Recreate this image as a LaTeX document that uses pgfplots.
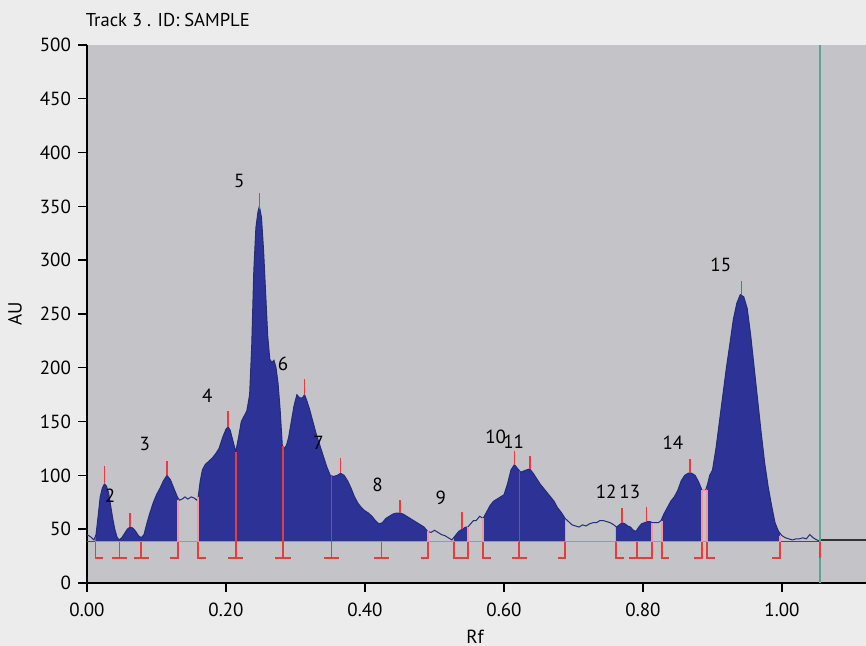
\documentclass[border=0pt]{standalone}
\usepackage{fontspec}
\setmainfont{PT Sans}
\usepackage{pgfplots}
\usepackage{pgfplotstable}
\pgfplotsset{compat=1.18}
\usepgfplotslibrary{fillbetween}
\definecolor{outerbg}{RGB}{236,236,236}
\definecolor{plotbg}{RGB}{196,196,200}
\definecolor{peak}{RGB}{44,50,150}
\definecolor{trace}{RGB}{35,45,115}
\definecolor{mk}{RGB}{232,60,60}
\definecolor{mkpink}{RGB}{240,150,160}
\definecolor{mkpurple}{RGB}{160,60,140}
\definecolor{tealline}{RGB}{90,165,150}
\pgfplotsset{
  layers/mylayers/.define layer set={outerlayer,axis background,axis grid,axis ticks,axis lines,axis tick labels,pre main,main,axis descriptions,axis foreground}{/pgfplots/layers/standard},
}

\pgfplotstableread{
x y
0.000 45
0.005 43
0.010 40
0.013 45
0.016 62
0.019 80
0.022 88
0.025 92
0.028 90
0.031 84
0.034 72
0.037 60
0.040 50
0.043 43
0.046 40
0.050 42
0.054 46
0.058 50
0.062 52
0.066 51
0.070 48
0.074 44
0.078 42
0.082 45
0.086 55
0.090 64
0.095 74
0.100 82
0.105 88
0.110 95
0.115 100
0.120 96
0.125 88
0.130 80
0.133 77
0.137 78
0.141 80
0.145 78
0.150 80
0.154 79
0.158 77
0.160 80
0.163 95
0.166 105
0.170 110
0.175 113
0.180 116
0.185 120
0.190 125
0.195 135
0.200 143
0.203 145
0.206 142
0.210 132
0.214 122
0.218 135
0.222 150
0.226 155
0.230 160
0.234 175
0.237 220
0.240 290
0.243 330
0.246 345
0.248 350
0.251 340
0.254 310
0.257 270
0.260 230
0.263 208
0.266 205
0.269 207
0.272 200
0.275 185
0.278 160
0.281 128
0.284 125
0.287 128
0.290 135
0.294 150
0.298 165
0.302 175
0.306 172
0.310 172
0.313 175
0.316 170
0.320 162
0.325 150
0.330 138
0.335 128
0.340 118
0.345 108
0.350 100
0.355 99
0.360 100
0.365 102
0.370 100
0.375 95
0.380 88
0.385 80
0.390 74
0.395 70
0.400 67
0.405 65
0.410 62
0.415 58
0.420 55
0.425 56
0.430 60
0.435 62
0.440 64
0.445 65
0.450 65
0.455 64
0.460 62
0.465 60
0.470 58
0.475 56
0.480 54
0.485 52
0.490 48
0.495 47
0.500 49
0.505 47
0.510 45
0.515 44
0.520 42
0.525 40
0.530 44
0.535 48
0.540 50
0.545 52
0.548 52
0.552 55
0.556 58
0.560 58
0.565 62
0.570 60
0.575 66
0.580 72
0.585 76
0.590 78
0.595 80
0.600 82
0.605 92
0.610 105
0.615 110
0.620 106
0.624 103
0.628 104
0.632 105
0.637 106
0.642 102
0.647 97
0.652 92
0.657 88
0.662 84
0.667 80
0.672 76
0.677 70
0.682 66
0.688 60
0.693 57
0.698 54
0.703 53
0.708 52
0.713 54
0.718 53
0.723 55
0.728 56
0.733 56
0.738 58
0.743 58
0.748 57
0.753 56
0.758 54
0.762 52
0.766 54
0.770 56
0.774 55
0.778 53
0.782 52
0.786 49
0.790 48
0.794 52
0.798 55
0.802 56
0.806 57
0.810 57
0.814 56
0.818 56
0.822 56
0.826 58
0.830 64
0.835 70
0.840 76
0.845 80
0.850 86
0.855 95
0.860 100
0.865 102
0.870 102
0.875 100
0.880 94
0.885 86
0.890 86
0.893 92
0.896 100
0.900 105
0.905 125
0.910 150
0.915 175
0.920 200
0.925 222
0.930 245
0.935 260
0.940 268
0.945 266
0.950 255
0.955 230
0.960 200
0.965 170
0.970 140
0.975 112
0.980 90
0.985 72
0.990 56
0.995 48
1.000 44
1.005 42
1.010 41
1.015 40
1.020 41
1.025 41
1.030 42
1.035 41
1.040 45
1.045 42
1.050 40
1.055 39
}\trace

\begin{document}
\begin{tikzpicture}
\begin{axis}[
  set layers=mylayers,
  clip=false,
  at={(0,0)}, anchor=south west,
  scale only axis, width=389.5pt, height=269pt,
  xmin=0, xmax=1.1209, ymin=0, ymax=500,
  axis background/.style={fill=plotbg},
  axis x line*=bottom, axis y line*=left,
  axis line style={black, line width=0.7pt},
  tick style={black, line width=0.7pt},
  tick align=outside, major tick length=4.5pt,
  xtick={0,0.2,0.4,0.6,0.8,1.0},
  xticklabels={0.00,0.20,0.40,0.60,0.80,1.00},
  ytick={0,50,100,150,200,250,300,350,400,450,500},
  yticklabels={0,50,100,150,200,250,300,350,400,450,500},
  minor tick num=0,
  tick label style={font=\fontsize{9.5}{11}\selectfont},
  xticklabel style={yshift=-2pt},
  title={Track 3 . ID: SAMPLE},
  every axis title shift=0pt,
  title style={at={(axis description cs:-0.002,1.0335)}, anchor=base west, inner sep=0pt, font=\fontsize{9.3}{11}\selectfont},
  xlabel={Rf},
  xlabel style={at={(axis description cs:0.498,-0.0994)}, anchor=center, font=\fontsize{9.5}{11}\selectfont},
  ylabel={AU},
  ylabel style={at={(axis description cs:-0.0924,0.5)}, anchor=center, font=\fontsize{9.5}{11}\selectfont},
]
\begin{pgfonlayer}{outerlayer}
\fill[outerbg] (rel axis cs:-0.1117,-0.1171) rectangle (rel axis cs:1,1.0836);
\end{pgfonlayer}
% baseline
\addplot[draw=none, name path=base, forget plot] coordinates {(0,39) (1.1209,39)};
\addplot[name path=curve, draw=none, forget plot] table[x=x,y=y] {\trace};
% fills
\addplot[peak] fill between[of=curve and base, soft clip={domain=0.012:0.131}];
\addplot[peak] fill between[of=curve and base, soft clip={domain=0.160:0.491}];
\addplot[peak] fill between[of=curve and base, soft clip={domain=0.528:0.548}];
\addplot[peak] fill between[of=curve and base, soft clip={domain=0.570:0.688}];
\addplot[peak] fill between[of=curve and base, soft clip={domain=0.761:0.813}];
\addplot[peak] fill between[of=curve and base, soft clip={domain=0.827:0.885}];
\addplot[peak] fill between[of=curve and base, soft clip={domain=0.892:0.997}];
% baseline lines
\addplot[gray!60!black, line width=0.4pt] coordinates {(0,39) (1.055,39)};
\addplot[black!80, line width=1pt] coordinates {(1.055,40) (1.1209,40)};
\addplot[blue!45!white, line width=0.4pt] coordinates {(0.012,39) (0.997,39)};
% trace
\addplot[trace, line width=0.5pt] table[x=x,y=y] {\trace};
% teal line
\addplot[tealline, line width=0.8pt] coordinates {(1.055,0) (1.055,500)};
% separators inside fills
\addplot[mk, line width=0.8pt, unbounded coords=jump] coordinates {
(0.214,38) (0.214,122) (0.214,nan)
(0.282,38) (0.282,127) (0.282,nan)
};
\addplot[mkpurple, line width=0.6pt, unbounded coords=jump] coordinates {
(0.352,38) (0.352,100) (0.352,nan)
(0.622,38) (0.622,104) (0.622,nan)
};
\addplot[mkpink, line width=0.8pt, unbounded coords=jump] coordinates {
(0.131,38) (0.131,77) (0.131,nan)
(0.160,38) (0.160,80) (0.160,nan)
(0.491,38) (0.491,48) (0.491,nan)
(0.548,38) (0.548,52) (0.548,nan)
(0.570,38) (0.570,60) (0.570,nan)
(0.813,38) (0.813,56) (0.813,nan)
(0.827,38) (0.827,58) (0.827,nan)
(0.885,38) (0.885,86) (0.892,86) (0.892,38) (0.892,nan)
(0.997,38) (0.997,44) (0.997,nan)
};
% bottom markers
\addplot[mk, line width=0.8pt, unbounded coords=jump] coordinates {
(0.012,38) (0.012,23) (0.023,23) (0.023,nan)
(0.036,23) (0.058,23) (0.058,nan) (0.047,23) (0.047,38) (0.047,nan)
(0.067,23) (0.089,23) (0.089,nan) (0.078,23) (0.078,38) (0.078,nan)
(0.120,23) (0.131,23) (0.131,38) (0.131,nan)
(0.160,38) (0.160,23) (0.171,23) (0.171,nan)
(0.203,23) (0.225,23) (0.225,nan) (0.214,23) (0.214,38) (0.214,nan)
(0.271,23) (0.293,23) (0.293,nan) (0.282,23) (0.282,38) (0.282,nan)
(0.341,23) (0.363,23) (0.363,nan) (0.352,23) (0.352,38) (0.352,nan)
(0.413,23) (0.435,23) (0.435,nan) (0.424,23) (0.424,38) (0.424,nan)
(0.480,23) (0.491,23) (0.491,38) (0.491,nan)
(0.528,38) (0.528,23) (0.548,23) (0.548,38) (0.548,nan)
(0.570,38) (0.570,23) (0.581,23) (0.581,nan)
(0.611,23) (0.633,23) (0.633,nan) (0.622,23) (0.622,38) (0.622,nan)
(0.677,23) (0.688,23) (0.688,38) (0.688,nan)
(0.761,38) (0.761,23) (0.772,23) (0.772,nan)
(0.780,23) (0.813,23) (0.813,38) (0.813,nan) (0.791,23) (0.791,38) (0.791,nan)
(0.827,38) (0.827,23) (0.838,23) (0.838,nan)
(0.874,23) (0.885,23) (0.885,38) (0.885,nan)
(0.892,38) (0.892,23) (0.903,23) (0.903,nan)
(0.986,23) (0.997,23) (0.997,38) (0.997,nan)
(1.055,38) (1.055,23) (1.055,nan)
};
% top markers
\addplot[mk, line width=0.8pt, unbounded coords=jump] coordinates {
(0.025,92) (0.025,109) (0.025,nan)
(0.062,52) (0.062,65) (0.062,nan)
(0.115,100) (0.115,113) (0.115,nan)
(0.203,145) (0.203,160) (0.203,nan)
(0.248,348) (0.248,362) (0.248,nan)
(0.313,175) (0.313,190) (0.313,nan)
(0.365,102) (0.365,116) (0.365,nan)
(0.450,65) (0.450,77) (0.450,nan)
(0.540,50) (0.540,66) (0.540,nan)
(0.615,110) (0.615,123) (0.615,nan)
(0.637,106) (0.637,118) (0.637,nan)
(0.770,56) (0.770,70) (0.770,nan)
(0.805,57) (0.805,71) (0.805,nan)
(0.868,102) (0.868,115) (0.868,nan)
(0.942,268) (0.942,281) (0.942,nan)
};
% peak labels
\begin{scope}[every node/.style={font=\fontsize{9.5}{11}\selectfont, text=black, inner sep=0pt}]
\node at (axis cs:0.033,81) {2};
\node at (axis cs:0.083,129) {3};
\node at (axis cs:0.173,174) {4};
\node at (axis cs:0.219,374) {5};
\node at (axis cs:0.282,204) {6};
\node at (axis cs:0.333,130) {7};
\node at (axis cs:0.418,91) {8};
\node at (axis cs:0.509,79) {9};
\node at (axis cs:0.588,136) {10};
\node at (axis cs:0.614,131) {11};
\node at (axis cs:0.747,85) {12};
\node at (axis cs:0.781,85) {13};
\node at (axis cs:0.843,130) {14};
\node at (axis cs:0.912,296) {15};
\end{scope}
\end{axis}
\pgfresetboundingbox
\path[use as bounding box] (-43.5pt,-31.5pt) rectangle (389.5pt,291.5pt);
\end{tikzpicture}
\end{document}
